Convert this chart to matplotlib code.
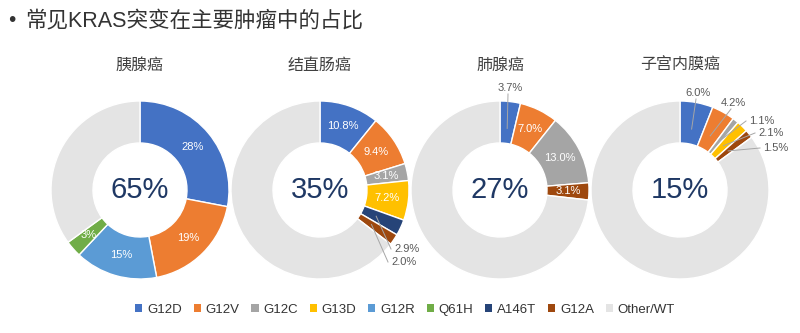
import numpy as np
import matplotlib
matplotlib.use("Agg")
import matplotlib.pyplot as plt
from matplotlib.patches import Patch

plt.rcParams['font.family'] = ['Liberation Sans', 'Noto Sans CJK SC', 'DejaVu Sans']

# ---- data ----
legend_names = ['G12D', 'G12V', 'G12C', 'G13D', 'G12R', 'Q61H', 'A146T', 'G12A', 'Other/WT']
mut_colors = {
    'G12D': '#4472C4', 'G12V': '#ED7D31', 'G12C': '#A5A5A5', 'G13D': '#FFC000',
    'G12R': '#5B9BD5', 'Q61H': '#70AD47', 'A146T': '#264478', 'G12A': '#9E480E',
    'Other/WT': '#E4E4E4',
}

tumors = ['胰腺癌', '结直肠癌', '肺腺癌', '子宫内膜癌']
totals = ['65%', '35%', '27%', '15%']

panc_muts = ['G12D', 'G12V', 'G12R', 'Q61H']
panc_vals = [28, 19, 15, 3]

crc_muts = ['G12D', 'G12V', 'G12C', 'G13D', 'A146T', 'G12A']
crc_vals = [10.8, 9.4, 3.1, 7.2, 2.9, 2.0]

lung_muts = ['G12D', 'G12V', 'G12C', 'G12A']
lung_vals = [3.7, 7.0, 13.0, 3.1]

endo_muts = ['G12D', 'G12V', 'G12C', 'G13D', 'G12A']
endo_vals = [6.0, 4.2, 1.1, 2.1, 1.5]

# ---- layout (pixels, y from top) ----
W, H = 800, 333
centers_x = [140, 320, 500, 680]
center_y = 190
R_OUT, R_W = 89, 42

# outside labels: index -> (dx, dy, ha)
outside = [
    {},
    {4: (74, 59, 'left'), 5: (71, 72, 'left')},
    {0: (10, -102, 'center')},
    {0: (18, -97, 'center'), 1: (53, -87, 'center'), 2: (69, -69, 'left'),
     3: (78, -57, 'left'), 4: (83, -42, 'left')},
]
fmts = ['{:.0f}%', '{:.1f}%', '{:.1f}%', '{:.1f}%']

fig = plt.figure(figsize=(8, 3.33), dpi=100)
ax = fig.add_axes([0, 0, 1, 1])


def Y(y):
    return H - y


charts = [(panc_muts, panc_vals), (crc_muts, crc_vals), (lung_muts, lung_vals), (endo_muts, endo_vals)]

for i, (muts, vals) in enumerate(charts):
    cx, cy = centers_x[i], Y(center_y)
    values = list(vals) + [100 - sum(vals)]
    colors = [mut_colors[m] for m in muts] + [mut_colors['Other/WT']]
    wedges, _ = ax.pie(values, colors=colors, radius=R_OUT, center=(cx, cy),
                       startangle=90, counterclock=False, frame=True,
                       wedgeprops=dict(width=R_W, edgecolor='white', linewidth=1))

    for j, v in enumerate(vals):
        w = wedges[j]
        ang = np.deg2rad((w.theta1 + w.theta2) / 2)
        label = fmts[i].format(v)
        if j in outside[i]:
            dx, dy, ha = outside[i][j]
            tx, ty = cx + dx, Y(center_y + dy)
            r0 = R_OUT - R_W / 2 - 6
            px, py = cx + r0 * np.cos(ang), cy + r0 * np.sin(ang)
            if ha == 'left':
                ex, ey = tx - 3, ty
            else:
                ex, ey = tx - 2, ty - 6
            ax.plot([px, ex], [py, ey], color='#A6A6A6', lw=0.7, zorder=3)
            ax.text(tx, ty, label, ha=ha, va='center', fontsize=8, color='#595959')
        else:
            r = R_OUT - R_W / 2
            ax.text(cx + r * np.cos(ang), cy + r * np.sin(ang), label,
                    ha='center', va='center', fontsize=8, color='white')

    ax.text(cx, cy, totals[i], ha='center', va='center', fontsize=21, color='#1F3864')
    ax.text(cx, Y(65), tumors[i], ha='center', va='center', fontsize=11.5, color='#404040')

ax.text(8, Y(21), '•', ha='left', va='center', fontsize=15, color='#333333')
ax.text(25, Y(21), '常见KRAS突变在主要肿瘤中的占比', ha='left', va='center',
        fontsize=15.5, color='#333333')

ax.set_xlim(0, W)
ax.set_ylim(0, H)
ax.set_aspect('equal')
ax.axis('off')

handles = [Patch(facecolor=mut_colors[n], edgecolor='none') for n in legend_names]
fig.legend(handles, legend_names, loc='center', bbox_to_anchor=(405 / W, 1 - 310 / H),
           ncol=9, frameon=False, fontsize=9.5, handlelength=0.55, handleheight=0.55,
           handletextpad=0.35, columnspacing=0.9, labelcolor='#333333')

fig.savefig('out.png', dpi=100)
